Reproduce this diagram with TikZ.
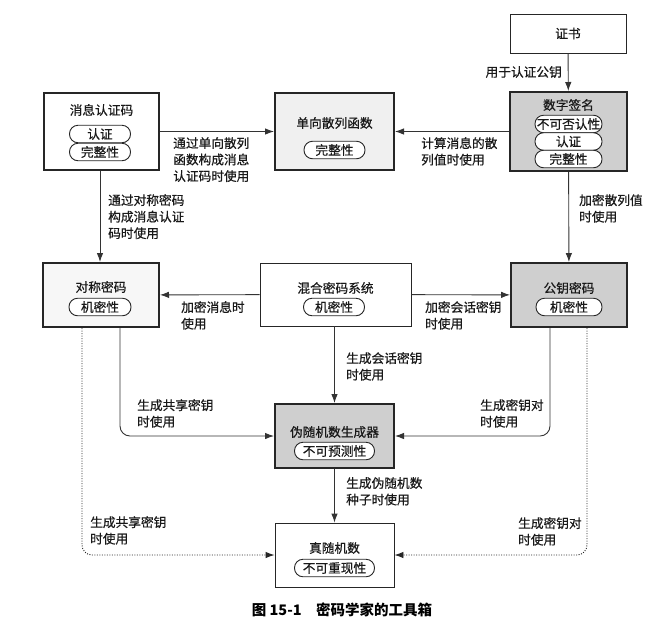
\documentclass[tikz,border=0pt]{standalone}
\usepackage{fontspec}
\setmainfont[FakeBold=0.5]{Noto Sans CJK SC}
\newfontfamily\capfont{Noto Sans CJK SC}
\usetikzlibrary{arrows.meta}
\begin{document}
\begin{tikzpicture}[x=1pt,y=-1pt,
  txt/.style={font=\fontsize{12.7}{16.5}\selectfont, text=black!90, inner sep=0pt},
  box/.style={draw=black!85, line width=0.9pt, fill=white, inner sep=0pt},
  tbox/.style={box, line width=2pt},
  grayfill/.style={fill=black!19},
  pill/.style={txt, draw=black!85, fill=white, line width=0.9pt, rounded corners=8.5pt, minimum height=17.5pt, inner sep=0pt},
  conn/.style={draw=black!80, line width=0.9pt, -{Latex[length=9pt,width=6.5pt]}},
  dconn/.style={conn, draw=black!85, dash pattern=on 1pt off 1.5pt},
  lbl/.style={txt, align=left, anchor=north west},
]
\useasboundingbox (0,0) rectangle (650,630);
\fill[white] (0,0) rectangle (650,630);

% boxes
\node[box, minimum width=116pt, minimum height=39pt, txt, draw=black!85, line width=0.9pt] (cert) at (568,33.5) {证书};
\node[tbox, minimum width=115pt, minimum height=77pt] (mac) at (101.5,131.5) {};
\node[tbox, fill=black!6, minimum width=119pt, minimum height=77pt] (hash) at (334.5,131.5) {};
\node[tbox, grayfill, minimum width=117pt, minimum height=79pt] (ds) at (568.5,131.5) {};
\node[tbox, fill=black!3, minimum width=116pt, minimum height=64pt] (sym) at (101,295) {};
\node[box, minimum width=151pt, minimum height=63pt] (hyb) at (335.5,294.5) {};
\node[tbox, grayfill, minimum width=116pt, minimum height=64pt] (pk) at (569,295) {};
\node[tbox, grayfill, minimum width=119pt, minimum height=64pt] (prng) at (334.5,436) {};
\node[box, minimum width=119pt, minimum height=64pt] (trng) at (334.5,555) {};

% titles and pills
\node[txt] (mact) at (101.5,110) {消息认证码};
\node[pill, minimum width=61pt] (macp1) at (100,134) {认证};
\node[pill, minimum width=61pt] (macp2) at (100,152) {完整性};

\node[txt] (hasht) at (334.5,123) {单向散列函数};
\node[pill, minimum width=61pt] (hashp) at (334.5,150) {完整性};

\node[txt] (dst) at (568.5,105) {数字签名};
\node[pill, minimum width=67pt] (dsp1) at (568.5,124) {不可否认性};
\node[pill, minimum width=67pt] (dsp2) at (568.5,141.5) {认证};
\node[pill, minimum width=67pt] (dsp3) at (568.5,159) {完整性};

\node[txt] (symt) at (101,287) {对称密码};
\node[pill, minimum width=62pt] (symp) at (100,307) {机密性};

\node[txt] (hybt) at (335.5,288) {混合密码系统};
\node[pill, minimum width=61pt] (hybp) at (334,307) {机密性};

\node[txt] (pkt) at (569,288) {公钥密码};
\node[pill, minimum width=66pt] (pkp) at (569,307) {机密性};

\node[txt] (prngt) at (334.5,432) {伪随机数生成器};
\node[pill, minimum width=80pt] (prngp) at (334.5,451) {不可预测性};

\node[txt] (trngt) at (334.5,548) {真随机数};
\node[pill, minimum width=80pt] (trngp) at (334.5,568) {不可重现性};

% connectors
\draw[conn] (cert) -- (ds);
\draw[conn] (mac) -- (hash);
\draw[conn] (ds) -- (hash);
\draw[conn] ([xshift=-1.5pt]mac.south) -- ([xshift=-1pt]sym.north);
\draw[conn] (ds) -- (pk);
\draw[conn] (hyb) -- (sym);
\draw[conn] (hyb) -- (pk);
\draw[conn] (hyb.south -| prng.north) -- (prng.north);
\draw[conn] (prng) -- (trng);
\draw[conn, rounded corners=10pt] ([xshift=19pt]sym.south) |- (prng.west);
\draw[conn, rounded corners=10pt] ([xshift=-19pt]pk.south) |- (prng.east);
\draw[dconn, rounded corners=10pt] ([xshift=-19pt]sym.south) |- (trng.west);
\draw[dconn, rounded corners=10pt] ([xshift=18pt]pk.south) |- (trng.east);

% labels
\node[txt, anchor=east] (l1) at (562,72) {用于认证公钥};
\node[lbl] (l2) at (173,137) {通过单向散列\\函数构成消息\\认证码时使用};
\node[lbl] (l3) at (421,137) {计算消息的散\\列值时使用};
\node[lbl] (l4) at (108,194) {通过对称密码\\构成消息认证\\码时使用};
\node[lbl] (l5) at (579,194) {加密散列值\\时使用};
\node[lbl] (l6) at (181,301) {加密消息时\\使用};
\node[lbl] (l7) at (425,301) {加密会话密钥\\时使用};
\node[lbl] (l8) at (346,352) {生成会话密钥\\时使用};
\node[lbl] (l9) at (137,399) {生成共享密钥\\时使用};
\node[lbl] (l10) at (480,399) {生成密钥对\\时使用};
\node[lbl] (l11) at (346,477) {生成伪随机数\\种子时使用};
\node[lbl] (l12) at (90,516) {生成共享密钥\\时使用};
\node[lbl] (l13) at (518,517) {生成密钥对\\时使用};

\node[inner sep=0pt, font=\capfont\fontsize{14.5}{16}\selectfont\bfseries] (cap) at (342,610) {图 15-1\quad 密码学家的工具箱};
\end{tikzpicture}
\end{document}
